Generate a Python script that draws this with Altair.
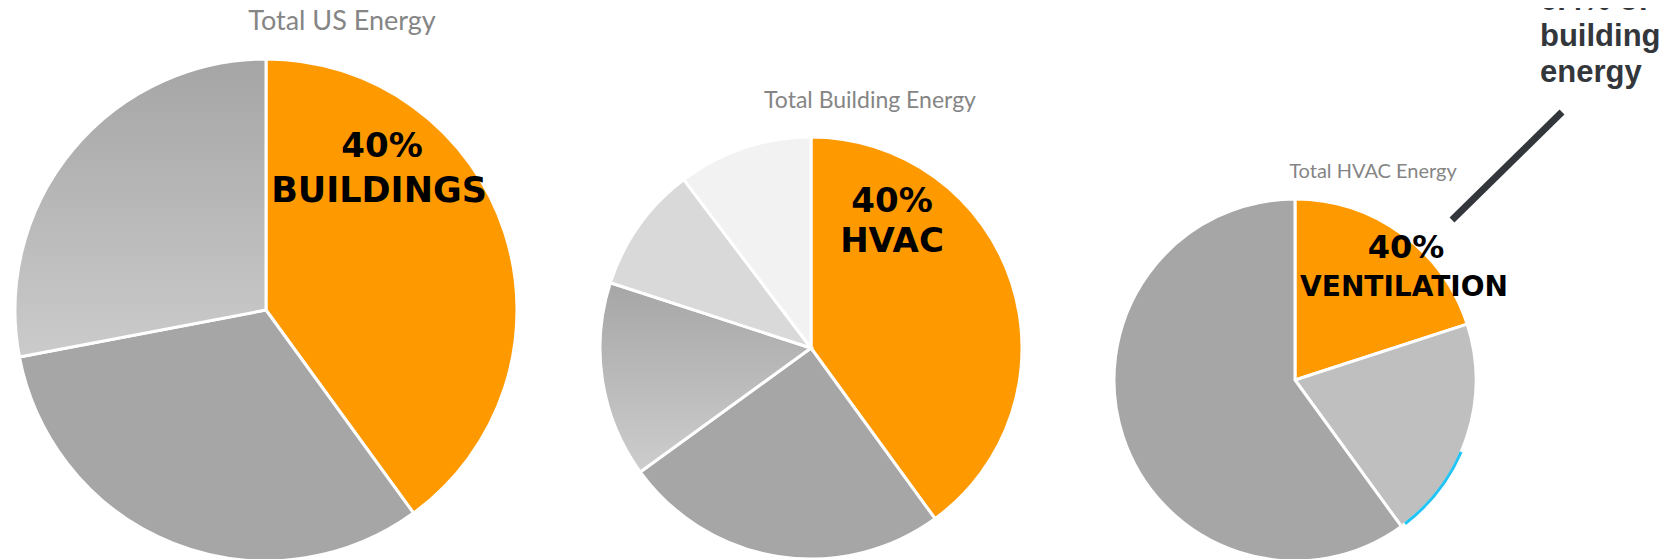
import altair as alt

# ---- data ----
us_cats = ["Buildings", "Industry", "Transportation"]
us_vals = [40, 32, 28]

bldg_cats = ["HVAC", "Lighting", "Water heating", "Appliances", "Other"]
bldg_vals = [40, 25, 15, 9.7, 10.3]

hvac_cats = ["Ventilation", "Cooling", "Heating"]
hvac_vals = [20, 20, 60]

titles = ["Total US Energy", "Total Building Energy", "Total HVAC Energy"]
pct_labels = ["40%", "40%", "40%"]
name_labels = ["BUILDINGS", "HVAC", "VENTILATION"]
note_text = ["6.4% of", "building", "energy"]

# ---- styles ----
ORANGE = "#ff9900"


def grad(c0, c1):
    return {"gradient": "linear", "x1": 0, "y1": 0, "x2": 0, "y2": 1,
            "stops": [{"offset": 0, "color": c0}, {"offset": 1, "color": c1}]}


us_fills = [ORANGE, "#a6a6a6", grad("#a5a5a5", "#cbcbcb")]
bldg_fills = [ORANGE, "#a6a6a6", grad("#a6a6a6", "#cdcdcd"), "#d9d9d9", "#f2f2f2"]
hvac_fills = [ORANGE, "#bfbfbf", "#a6a6a6"]

theta_scale = alt.Scale(domain=[0, 100], range=[0, 6.283185307179586])


def pie(cats, vals, fills, cx, cy, r):
    recs, acc = [], 0.0
    for c, v, f in zip(cats, vals, fills):
        recs.append({"cat": c, "start": acc, "end": acc + v, "fill": f})
        acc += v
    return alt.Chart(alt.Data(values=recs)).mark_arc(
        radius=r, stroke="white", strokeWidth=3
    ).encode(
        theta=alt.Theta("start:Q", scale=theta_scale),
        theta2="end:Q",
        fill=alt.Fill("fill:N", scale=None),
        x=alt.value(cx), y=alt.value(cy),
    )


def text(t, x, y, size, font, weight, color, align="center", lh=None):
    kw = dict(fontSize=size, font=font, fontWeight=weight, color=color,
              align=align, baseline="alphabetic")
    if lh is not None:
        kw["lineBreak"] = "\n"
        kw["lineHeight"] = lh
    return alt.Chart(alt.Data(values=[{"t": t}])).mark_text(**kw).encode(
        text="t:N", x=alt.value(x), y=alt.value(y))


pie1 = pie(us_cats, us_vals, us_fills, 258, 302, 251)
pie2 = pie(bldg_cats, bldg_vals, bldg_fills, 803, 340, 211)
pie3 = pie(hvac_cats, hvac_vals, hvac_fills, 1287, 372, 181)

# small blue edge visible on the HVAC pie
edge = alt.Chart(alt.Data(values=[{"start": 31.5, "end": 39.6}])).mark_arc(
    radius=182.5, radius2=179.5, fill="#22c4f5"
).encode(
    theta=alt.Theta("start:Q", scale=theta_scale), theta2="end:Q",
    x=alt.value(1287), y=alt.value(372),
)

TITLE_FONT = "Lato"
TITLE_COLOR = "#858585"
LBL_FONT = "DejaVu Sans"

layers = [
    pie1, pie2, pie3, edge,
    text(titles[0], 334, 22, 27, TITLE_FONT, "normal", TITLE_COLOR),
    text(titles[1], 862, 100, 23, TITLE_FONT, "normal", TITLE_COLOR),
    text(titles[2], 1365, 170, 20, TITLE_FONT, "normal", TITLE_COLOR),
    text(pct_labels[0], 374, 149, 34, LBL_FONT, "bold", "black"),
    text(name_labels[0], 371, 194, 35, LBL_FONT, "bold", "black"),
    text(pct_labels[1], 884, 204, 34, LBL_FONT, "bold", "black"),
    text(name_labels[1], 884, 244, 34, LBL_FONT, "bold", "black"),
    text(pct_labels[2], 1398, 250, 32, LBL_FONT, "bold", "black"),
    text(name_labels[2], 1396, 288, 28, LBL_FONT, "bold", "black"),
    text("\n".join(note_text), 1532, 2, 31, "Liberation Sans", "bold", "#33373b",
         align="left", lh=36),
    alt.Chart(alt.Data(values=[{}])).mark_rule(
        color="#33373b", strokeWidth=7, strokeCap="butt"
    ).encode(x=alt.value(1554), y=alt.value(104), x2=alt.value(1444), y2=alt.value(212)),
]

chart = alt.layer(*layers).properties(
    width=1652, height=551, autosize="none", padding=0
).configure_view(stroke=None)

chart.save("out.html", embed_options={"renderer": "svg", "actions": False})
